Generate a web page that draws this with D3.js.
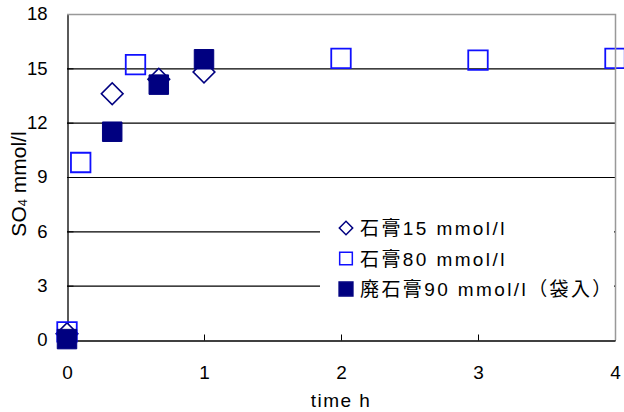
<!DOCTYPE html>
<html>
<head>
<meta charset="utf-8">
<script src="https://cdn.jsdelivr.net/npm/d3@7"></script>
<style>
  body { margin: 0; background: #fff; }
  svg { display: block; }
</style>
</head>
<body>
<svg id="chart" width="624" height="412"></svg>
<script>
// data
var time15 = [0, 0.33, 0.67, 1]
var so4_15 = [0.35, 13.6, 14.4, 14.8]
var time80 = [0, 0.1, 0.5, 2, 3, 4]
var so4_80 = [0.45, 9.8, 15.2, 15.55, 15.45, 15.55]
var time90 = [0, 0.33, 0.67, 1]
var so4_90 = [0.05, 11.5, 14.1, 15.5]

var xTicks = [0, 1, 2, 3, 4]
var yTicks = [0, 3, 6, 9, 12, 15, 18]
var legendLabels = ["石膏15 mmol/l", "石膏80 mmol/l", "廃石膏90 mmol/l（袋入）"]

var navy = "#000080", blue = "#1010ff"
var fontFam = "'Liberation Sans', Arial, 'Noto Sans CJK JP', sans-serif"

var svg = d3.select("#chart")

var x = d3.scaleLinear().domain([0, 4]).range([67, 615])
var y = d3.scaleLinear().domain([0, 18]).range([340, 14])

// grid lines
svg.append("g").selectAll("line")
    .data(yTicks.filter(function(d) { return d > 0 && d < 18 }))
    .enter().append("line")
    .attr("x1", x(0)).attr("x2", x(4))
    .attr("y1", function(d) { return y(d) + 0.5 })
    .attr("y2", function(d) { return y(d) + 0.5 })
    .style("stroke", "#000").style("stroke-width", 1.2)

// axes
var xAxis = svg.append("g")
    .attr("transform", "translate(0," + (y(0) + 0.5) + ")")
    .call(d3.axisBottom(x).tickValues(xTicks).tickFormat(d3.format("d"))
        .tickSizeInner(-6).tickSizeOuter(0).tickPadding(25))
xAxis.select(".domain").style("stroke", "#000").style("stroke-width", 1.3)
xAxis.selectAll("text").style("font-family", fontFam).style("font-size", "19px").style("fill", "#000")

var yAxis = svg.append("g")
    .attr("transform", "translate(" + (x(0) + 0.5) + ",0)")
    .call(d3.axisLeft(y).tickValues(yTicks)
        .tickSizeInner(-6).tickSizeOuter(0).tickPadding(20))
yAxis.select(".domain").style("stroke", "#000").style("stroke-width", 1.3)
yAxis.selectAll("text").style("font-family", fontFam).style("font-size", "18.5px").style("fill", "#000")

// axis titles
svg.append("text")
    .attr("x", x(2)).attr("y", 407)
    .attr("text-anchor", "middle")
    .style("font-family", fontFam).style("font-size", "19px").style("letter-spacing", "1.5px")
    .text("time h")

var yTitle = svg.append("text")
    .attr("transform", "translate(26,184) rotate(-90)")
    .attr("text-anchor", "middle")
    .style("font-family", fontFam).style("font-size", "21px")
yTitle.append("tspan").text("SO")
yTitle.append("tspan").text("4").style("font-size", "13px").attr("dy", 1)
yTitle.append("tspan").text(" mmol/l").attr("dy", -1)

// markers
var diamond = d3.symbol().type(d3.symbolSquare).size(235)
var square = d3.symbol().type(d3.symbolSquare).size(380)

function pts(xs, ys) { return xs.map(function(t, i) { return { t: t, v: ys[i] } }) }

svg.append("g").selectAll("path")
    .data(pts(time15, so4_15))
    .enter().append("path")
    .attr("d", diamond)
    .attr("transform", function(d) { return "translate(" + x(d.t) + "," + y(d.v) + ") rotate(45)" })
    .style("fill", "#fff").style("stroke", navy).style("stroke-width", 1.6)

svg.append("g").selectAll("path")
    .data(pts(time80, so4_80))
    .enter().append("path")
    .attr("d", square)
    .attr("transform", function(d) { return "translate(" + x(d.t) + "," + y(d.v) + ")" })
    .style("fill", "none").style("stroke", blue).style("stroke-width", 1.8)

svg.append("g").selectAll("path")
    .data(pts(time90, so4_90))
    .enter().append("path")
    .attr("d", square)
    .attr("transform", function(d) { return "translate(" + x(d.t) + "," + y(d.v) + ")" })
    .style("fill", navy).style("stroke", navy).style("stroke-width", 1)

// plot border (top / right)
svg.append("path")
    .attr("d", "M" + x(0) + "," + (y(18) + 0.5) + "H" + (x(4) + 0.5) + "V" + y(0))
    .style("fill", "none").style("stroke", "#999").style("stroke-width", 1.5)

// legend
var legend = svg.append("g")
legend.append("rect")
    .attr("x", 320).attr("y", 200).attr("width", 294).attr("height", 108)
    .style("fill", "#fff")

var legendMarks = [
    { sym: d3.symbol().type(d3.symbolSquare).size(90), rot: 45, fill: "#fff", stroke: navy },
    { sym: d3.symbol().type(d3.symbolSquare).size(160), rot: 0, fill: "#fff", stroke: blue },
    { sym: d3.symbol().type(d3.symbolSquare).size(190), rot: 0, fill: navy, stroke: navy }
]
var rows = legend.selectAll("g.row")
    .data(legendLabels)
    .enter().append("g").attr("class", "row")
    .attr("transform", function(d, i) { return "translate(346," + (228 + i * 30.5) + ")" })
rows.append("path")
    .attr("d", function(d, i) { return legendMarks[i].sym() })
    .attr("transform", function(d, i) { return "rotate(" + legendMarks[i].rot + ")" })
    .style("fill", function(d, i) { return legendMarks[i].fill })
    .style("stroke", function(d, i) { return legendMarks[i].stroke })
    .style("stroke-width", 1.5)
rows.append("text")
    .attr("x", 14).attr("y", 7)
    .style("font-family", fontFam).style("font-size", "19px").style("letter-spacing", "2.4px")
    .text(function(d) { return d })
</script>
</body>
</html>
